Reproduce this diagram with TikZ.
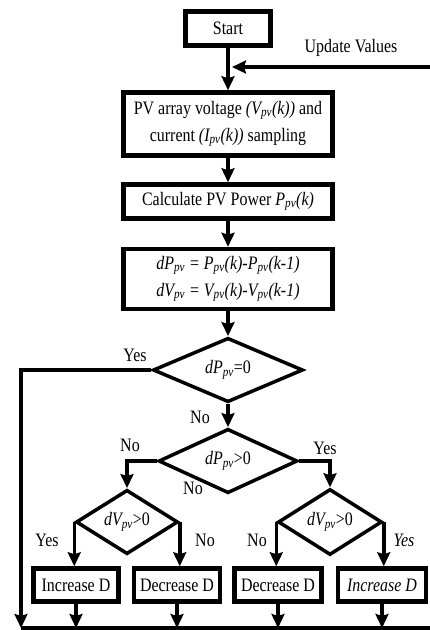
\documentclass[tikz,border=0pt]{standalone}
\usepackage{fontspec}
\setmainfont[FakeStretch=0.84]{Liberation Serif}
\usetikzlibrary{shapes.geometric,arrows.meta}
\begin{document}
\begin{tikzpicture}[x=1pt,y=-1pt,
  box/.style={draw,line width=4.5pt,inner sep=0pt,align=center},
  dec/.style={draw,diamond,line width=3.5pt,inner sep=0pt},
  conn/.style={line width=3.5pt},
  arr/.style={conn,-{Stealth[length=14pt,width=13pt,inset=2pt]}},
  lbl/.style={inner sep=0pt},
  font=\fontsize{19}{27}\selectfont]
\useasboundingbox (0,0) rectangle (430,630);
% process boxes
\node[box,minimum width=85pt,minimum height=34pt] (start) at (228,28.5) {Start};
\node[box,minimum width=209pt,minimum height=63pt] (pv) at (228,124)
  {PV array voltage \textit{(V\textsubscript{pv}(k))} and\\current \textit{(I\textsubscript{pv}(k))} sampling};
\node[box,minimum width=209pt,minimum height=34pt] (calc) at (228,201.5)
  {Calculate PV Power \textit{P\textsubscript{pv}(k)}};
\node[box,minimum width=209pt,minimum height=60pt] (dp) at (228,279)
  {\textit{dP\textsubscript{pv} = P\textsubscript{pv}(k)-P\textsubscript{pv}(k-1)}\\
   \textit{dV\textsubscript{pv} = V\textsubscript{pv}(k)-V\textsubscript{pv}(k-1)}};
% decisions
\node[dec,minimum width=150pt,minimum height=59pt] (d1) at (228,370) {\textit{dP\textsubscript{pv}}=0};
\node[dec,minimum width=139pt,minimum height=61pt] (d2) at (228,461) {\textit{dP\textsubscript{pv}}>0};
\node[dec,minimum width=102pt,minimum height=64pt] (d3) at (127,522) {\textit{dV\textsubscript{pv}}>0};
\node[dec,minimum width=104pt,minimum height=66pt] (d4) at (330,522) {\textit{dV\textsubscript{pv}}>0};
% result boxes
\node[box,minimum width=85pt,minimum height=33pt] (b1) at (76,585) {Increase D};
\node[box,minimum width=86pt,minimum height=33pt] (b2) at (177,585) {Decrease D};
\node[box,minimum width=87pt,minimum height=33pt] (b3) at (278,585) {Decrease D};
\node[box,minimum width=88pt,minimum height=33pt] (b4) at (382,585) {\textit{Increase D}};
% labels
\node[lbl] (lupd) at (351,48) {Update Values};
\node[lbl] (ly1) at (135,355) {Yes};
\node[lbl] (ln1) at (200,417) {No};
\node[lbl] (ln2) at (130,445) {No};
\node[lbl] (ly2) at (325,448) {Yes};
\node[lbl] (ln3) at (193,488) {No};
\node[lbl] (ly3) at (47,540) {Yes};
\node[lbl] (ln4) at (205,540) {No};
\node[lbl] (ln5) at (257,540) {No};
\node[lbl] (ly4) at (404,540) {\textit{Yes}};
% coordinates
\coordinate (ur) at (430,67);
\coordinate (ul) at (232,67);
\coordinate (bl) at (21,628);
\coordinate (br) at (430,628);
% connectors
\draw[arr] (start) -- (pv);
\draw[arr] (ur) -- (ul);
\draw[arr] (pv) -- (calc);
\draw[arr] (calc) -- (dp);
\draw[arr] (dp) -- (d1);
\draw[arr] (d1) -- (d2);
\draw[arr] (d1.west) -| (bl);
\draw[arr] (d2.west) -| (d3.north);
\draw[arr] (d2.east) -| (d4.north);
\draw[arr] (d3.west) -- (d3.west |- b1.north);
\draw[arr] (d3.east) -- (d3.east |- b2.north);
\draw[arr] (d4.west) -- (d4.west |- b3.north);
\draw[arr] (d4.east) -- (d4.east |- b4.north);
\draw[arr] (b1) -- (b1 |- bl);
\draw[arr] (b2) -- (b2 |- bl);
\draw[arr] (b3) -- (b3 |- bl);
\draw[arr] (b4) -- (b4 |- bl);
\draw[conn] (bl) -- (br);
\end{tikzpicture}
\end{document}
